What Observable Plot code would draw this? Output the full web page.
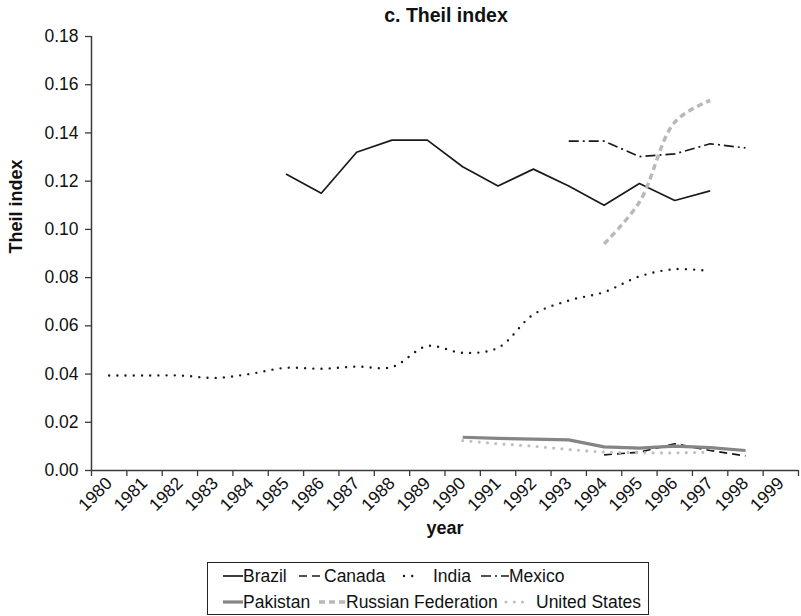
<!DOCTYPE html>
<html>
<head>
<meta charset="utf-8">
<script src="https://cdn.jsdelivr.net/npm/d3@7"></script>
<script src="https://cdn.jsdelivr.net/npm/@observablehq/plot@0.6"></script>
<style>
  html, body { margin: 0; padding: 0; background: #fff; }
  body { width: 801px; height: 616px; overflow: hidden; font-family: "Liberation Sans", Arial, sans-serif; color: #111; }
  #title { padding-left: 91px; padding-top: 5px; width: 710px; height: 20px; line-height: 20px; text-align: center; font-weight: bold; font-size: 19.5px; }
  #legend { position: relative; box-sizing: border-box; margin-left: 207px; margin-top: 14px; width: 442px; height: 53px; border: 1px solid #222; font-size: 17.5px; }
  .item { position: absolute; height: 24px; display: flex; align-items: center; white-space: nowrap; }
  .item svg { display: block; }
</style>
</head>
<body>
<div id="title">c. Theil index</div>
<div id="chart"></div>
<div id="legend"></div>
<script>
// ---- data ----
const years = [1980,1981,1982,1983,1984,1985,1986,1987,1988,1989,1990,1991,1992,1993,1994,1995,1996,1997,1998];
const xTickYears = [1980,1981,1982,1983,1984,1985,1986,1987,1988,1989,1990,1991,1992,1993,1994,1995,1996,1997,1998,1999];
const yTicks = [0,0.02,0.04,0.06,0.08,0.10,0.12,0.14,0.16,0.18];

const countries = ["Brazil","Canada","India","Mexico","Pakistan","Russian Federation","United States"];
const brazil   = [null,null,null,null,null,0.123,0.115,0.132,0.137,0.137,0.126,0.118,0.125,0.118,0.110,0.119,0.112,0.116,null];
const canada   = [null,null,null,null,null,null,null,null,null,null,null,null,null,null,0.0065,0.0076,0.0111,0.0083,0.0060];
const india    = [0.0394,0.0394,0.0394,0.0384,0.0401,0.0426,0.0422,0.0431,0.0429,0.0516,0.0488,0.0509,0.0647,0.0705,0.0740,0.0805,0.0835,0.0827,null];
const mexico   = [null,null,null,null,null,null,null,null,null,null,null,null,null,0.1366,0.1366,0.1302,0.1313,0.1355,0.1338];
const pakistan = [null,null,null,null,null,null,null,null,null,null,0.0138,0.0133,0.0130,0.0127,0.0098,0.0093,0.0101,0.0095,0.0083];
const russia   = [null,null,null,null,null,null,null,null,null,null,null,null,null,null,0.0940,0.1113,0.1445,0.1535,null];
const us       = [null,null,null,null,null,null,null,null,null,null,0.0124,0.0111,0.0101,0.0087,0.0076,0.0073,0.0073,0.0076,null];

// ---- styles ----
const styles = {
  "Brazil":             {stroke: "#1a1a1a", strokeWidth: 1.7, strokeDasharray: null, curve: "linear", linecap: "butt"},
  "Canada":             {stroke: "#1a1a1a", strokeWidth: 1.7, strokeDasharray: "8 5", curve: "linear", linecap: "butt"},
  "India":              {stroke: "#1a1a1a", strokeWidth: 2.4, strokeDasharray: "0 8.2", curve: "catmull-rom", linecap: "round"},
  "Mexico":             {stroke: "#1a1a1a", strokeWidth: 1.7, strokeDasharray: "10 4 2 4", curve: "linear", linecap: "butt"},
  "Pakistan":           {stroke: "#858585", strokeWidth: 3.2, strokeDasharray: null, curve: "linear", linecap: "butt"},
  "Russian Federation": {stroke: "#b8b8b8", strokeWidth: 3.4, strokeDasharray: "6 4", curve: "catmull-rom", linecap: "butt"},
  "United States":      {stroke: "#c0c0c0", strokeWidth: 3.2, strokeDasharray: "0 8.3", curve: "linear", linecap: "round"}
};

const seriesValues = {"Brazil": brazil, "Canada": canada, "India": india, "Mexico": mexico,
  "Pakistan": pakistan, "Russian Federation": russia, "United States": us};

const rows = [];
for (const c of countries) {
  seriesValues[c].forEach((v, i) => { if (v != null) rows.push({country: c, year: years[i], value: v}); });
}

const halfTicks = [...xTickYears.map(y => y - 0.5), xTickYears[xTickYears.length - 1] + 0.5];
const axisColor = "#3a3a3a";

const lineMarks = countries.map(c => {
  const s = styles[c];
  return Plot.line(rows.filter(r => r.country === c), {
    x: "year", y: "value", stroke: s.stroke, strokeWidth: s.strokeWidth,
    strokeDasharray: s.strokeDasharray || undefined, curve: s.curve, strokeLinecap: s.linecap
  });
});

const chart = Plot.plot({
  width: 801,
  height: 523,
  marginTop: 11,
  marginBottom: 78,
  marginLeft: 91,
  marginRight: 3,
  style: {fontFamily: "'Liberation Sans', Arial, sans-serif", fontSize: "17.5px", color: "#111", background: "#fff", overflow: "visible"},
  x: {domain: [halfTicks[0], halfTicks[halfTicks.length - 1]], label: null},
  y: {domain: [0, 0.18], label: null},
  marks: [
    Plot.axisY({ticks: yTicks, tickFormat: d3.format(".2f"), tickSize: 6, tickPadding: 7, label: null, stroke: axisColor, strokeWidth: 1.3}),
    Plot.axisX({ticks: halfTicks, tickFormat: () => "", tickSize: 6, label: null, stroke: axisColor, strokeWidth: 1.3}),
    Plot.axisX({ticks: xTickYears, tickFormat: d => String(d), tickSize: 0, tickPadding: 10, tickRotate: -45, label: null}),
    Plot.ruleX([halfTicks[0]], {stroke: axisColor, strokeWidth: 1.5}),
    Plot.ruleY([0], {stroke: axisColor, strokeWidth: 1.5}),
    ...lineMarks,
    Plot.text(["Theil index"], {frameAnchor: "left", dx: -75, rotate: -90, fontWeight: "bold", fontSize: 18, fill: "#111"}),
    Plot.text(["year"], {frameAnchor: "bottom", dy: 63, fontWeight: "bold", fontSize: 18, fill: "#111"})
  ]
});
document.getElementById("chart").appendChild(chart);

// ---- legend ----
const legendItems = [
  {country: "Brazil", left: 15, row: 0, sw: 20, gap: 0},
  {country: "Canada", left: 91, row: 0, sw: 25, gap: 0},
  {country: "India", left: 193, row: 0, sw: 22, gap: 10},
  {country: "Mexico", left: 273, row: 0, sw: 28, gap: 0},
  {country: "Pakistan", left: 15, row: 1, sw: 20, gap: 0},
  {country: "Russian Federation", left: 111, row: 1, sw: 27, gap: 0},
  {country: "United States", left: 295, row: 1, sw: 23, gap: 10}
];
const legend = document.getElementById("legend");
for (const it of legendItems) {
  const s = styles[it.country];
  const div = document.createElement("div");
  div.className = "item";
  div.style.left = it.left + "px";
  div.style.top = (it.row === 0 ? 1 : 27) + "px";
  const ns = "http://www.w3.org/2000/svg";
  const svg = document.createElementNS(ns, "svg");
  svg.setAttribute("width", it.sw);
  svg.setAttribute("height", 12);
  const ln = document.createElementNS(ns, "line");
  const pad = s.linecap === "round" ? 3 : 0;
  ln.setAttribute("x1", pad); ln.setAttribute("x2", it.sw - pad);
  ln.setAttribute("y1", 6); ln.setAttribute("y2", 6);
  ln.setAttribute("stroke", s.stroke);
  ln.setAttribute("stroke-width", s.strokeWidth);
  ln.setAttribute("stroke-linecap", s.linecap);
  if (s.strokeDasharray) ln.setAttribute("stroke-dasharray", s.strokeDasharray);
  svg.appendChild(ln);
  div.appendChild(svg);
  const span = document.createElement("span");
  span.textContent = it.country;
  span.style.marginLeft = it.gap + "px";
  div.appendChild(span);
  legend.appendChild(div);
}
</script>
</body>
</html>
